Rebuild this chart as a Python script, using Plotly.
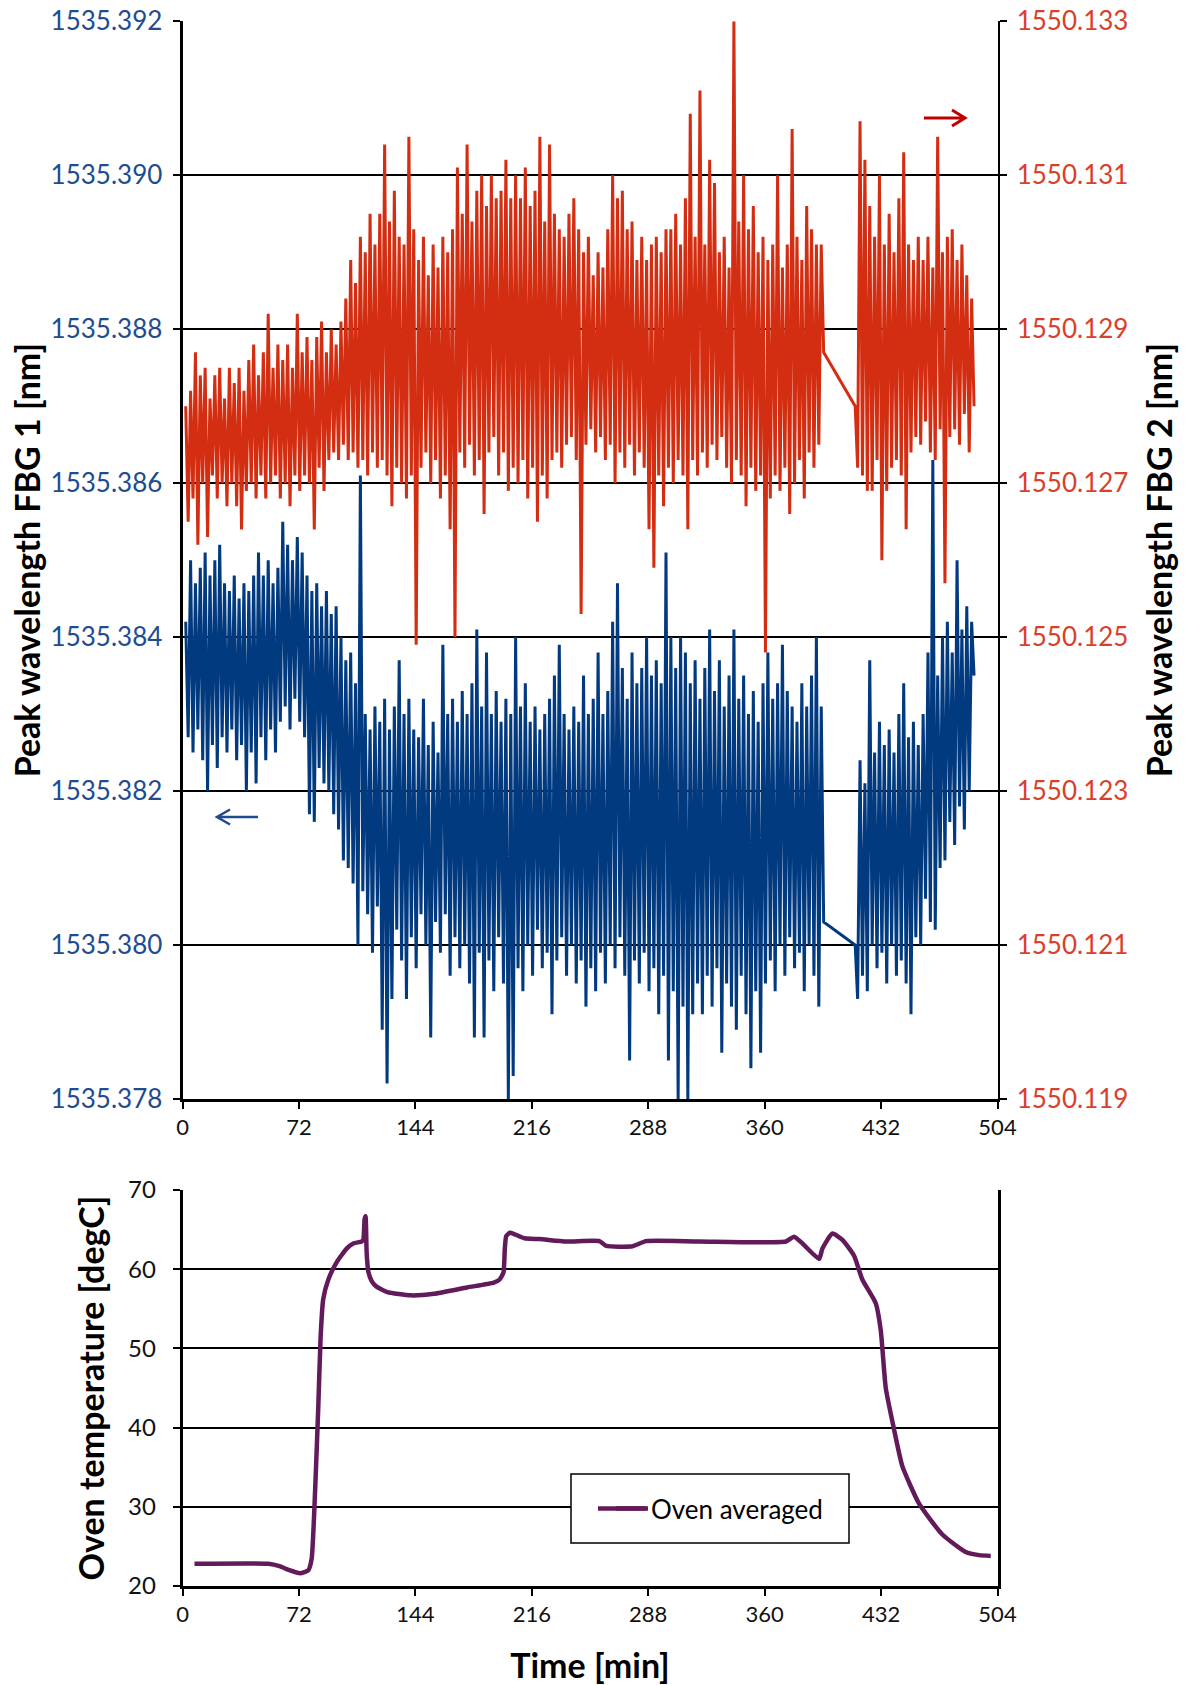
import plotly.graph_objects as go

# ---------------- data ----------------
# start time (min) of each high/low reading pair; the low of a pair is 1.5 min later
pair_times = list(range(2, 396, 3)) + list(range(416, 489, 3))

fbg1_hi = [
    1535.3842, 1535.3850, 1535.3847, 1535.3849, 1535.3851, 1535.3848, 1535.3850, 1535.3852, 1535.3847, 1535.3846,
    1535.3848, 1535.3845, 1535.3847, 1535.3846, 1535.3848, 1535.3851, 1535.3848, 1535.3850, 1535.3847, 1535.3849,
    1535.3855, 1535.3852, 1535.3850, 1535.3853, 1535.3851, 1535.3848, 1535.3846, 1535.3847, 1535.3844, 1535.3846,
    1535.3843, 1535.3844, 1535.3840, 1535.3837, 1535.3838, 1535.3834, 1535.3861, 1535.3830, 1535.3828, 1535.3831,
    1535.3829, 1535.3832, 1535.3828, 1535.3831, 1535.3837, 1535.3830, 1535.3832, 1535.3828, 1535.3827, 1535.3832,
    1535.3826, 1535.3829, 1535.3825, 1535.3839, 1535.3830, 1535.3832, 1535.3829, 1535.3833, 1535.3830, 1535.3834,
    1535.3841, 1535.3831, 1535.3838, 1535.3830, 1535.3833, 1535.3829, 1535.3832, 1535.3830, 1535.3840, 1535.3831,
    1535.3834, 1535.3829, 1535.3831, 1535.3828, 1535.3830, 1535.3832, 1535.3835, 1535.3839, 1535.3830, 1535.3828,
    1535.3831, 1535.3829, 1535.3835, 1535.3830, 1535.3832, 1535.3838, 1535.3830, 1535.3833, 1535.3842, 1535.3847,
    1535.3836, 1535.3832, 1535.3838, 1535.3834, 1535.3836, 1535.3840, 1535.3835, 1535.3837, 1535.3834, 1535.3851,
    1535.3840, 1535.3836, 1535.3840, 1535.3838, 1535.3834, 1535.3837, 1535.3832, 1535.3836, 1535.3841, 1535.3833,
    1535.3837, 1535.3831, 1535.3835, 1535.3841, 1535.3832, 1535.3835, 1535.3830, 1535.3833, 1535.3829, 1535.3834,
    1535.3838, 1535.3832, 1535.3834, 1535.3839, 1535.3833, 1535.3831, 1535.3829, 1535.3834, 1535.3831, 1535.3835,
    1535.3840, 1535.3831,
    1535.3800, 1535.3824, 1535.3821, 1535.3837, 1535.3825, 1535.3829, 1535.3826, 1535.3828, 1535.3825, 1535.3830,
    1535.3834, 1535.3827, 1535.3829, 1535.3826, 1535.3830, 1535.3838, 1535.3863, 1535.3835, 1535.3840, 1535.3842,
    1535.3838, 1535.3850, 1535.3841, 1535.3844, 1535.3842,
]
fbg1_lo = [
    1535.3827, 1535.3825, 1535.3828, 1535.3824, 1535.3820, 1535.3826, 1535.3823, 1535.3827, 1535.3825, 1535.3828,
    1535.3824, 1535.3826, 1535.3820, 1535.3825, 1535.3821, 1535.3827, 1535.3824, 1535.3828, 1535.3825, 1535.3829,
    1535.3831, 1535.3828, 1535.3832, 1535.3829, 1535.3827, 1535.3817, 1535.3816, 1535.3823, 1535.3821, 1535.3820,
    1535.3817, 1535.3815, 1535.3811, 1535.3810, 1535.3808, 1535.3800, 1535.3807, 1535.3804, 1535.3799, 1535.3805,
    1535.3789, 1535.3782, 1535.3793, 1535.3802, 1535.3798, 1535.3793, 1535.3801, 1535.3797, 1535.3804, 1535.3800,
    1535.3788, 1535.3803, 1535.3799, 1535.3804, 1535.3796, 1535.3801, 1535.3797, 1535.3800, 1535.3795, 1535.3788,
    1535.3799, 1535.3788, 1535.3798, 1535.3794, 1535.3801, 1535.3795, 1535.3780, 1535.3783, 1535.3797, 1535.3794,
    1535.3800, 1535.3796, 1535.3802, 1535.3797, 1535.3799, 1535.3791, 1535.3798, 1535.3801, 1535.3796, 1535.3800,
    1535.3795, 1535.3798, 1535.3792, 1535.3797, 1535.3794, 1535.3799, 1535.3795, 1535.3800, 1535.3797, 1535.3801,
    1535.3796, 1535.3785, 1535.3798, 1535.3795, 1535.3799, 1535.3794, 1535.3797, 1535.3791, 1535.3796, 1535.3785,
    1535.3794, 1535.3780, 1535.3792, 1535.3780, 1535.3791, 1535.3795, 1535.3791, 1535.3796, 1535.3792, 1535.3797,
    1535.3786, 1535.3795, 1535.3792, 1535.3789, 1535.3796, 1535.3791, 1535.3784, 1535.3794, 1535.3786, 1535.3795,
    1535.3798, 1535.3794, 1535.3800, 1535.3796, 1535.3801, 1535.3797, 1535.3799, 1535.3794, 1535.3800, 1535.3796,
    1535.3792, 1535.3803,
    1535.3793, 1535.3796, 1535.3794, 1535.3800, 1535.3797, 1535.3799, 1535.3795, 1535.3800, 1535.3796, 1535.3798,
    1535.3795, 1535.3791, 1535.3801, 1535.3800, 1535.3806, 1535.3803, 1535.3802, 1535.3810, 1535.3811, 1535.3816,
    1535.3813, 1535.3818, 1535.3815, 1535.3820, 1535.3835,
]
fbg2_hi = [
    1550.1280, 1550.1282, 1550.1287, 1550.1284, 1550.1285, 1550.1281, 1550.1284, 1550.1285, 1550.1281, 1550.1285,
    1550.1283, 1550.1285, 1550.1282, 1550.1286, 1550.1288, 1550.1284, 1550.1287, 1550.1292, 1550.1285, 1550.1288,
    1550.1286, 1550.1288, 1550.1285, 1550.1292, 1550.1287, 1550.1289, 1550.1286, 1550.1289, 1550.1291, 1550.1287,
    1550.1290, 1550.1288, 1550.1291, 1550.1294, 1550.1299, 1550.1296, 1550.1302, 1550.1300, 1550.1305, 1550.1301,
    1550.1305, 1550.1314, 1550.1304, 1550.1308, 1550.1302, 1550.1301, 1550.1315, 1550.1303, 1550.1299, 1550.1302,
    1550.1297, 1550.1301, 1550.1298, 1550.1302, 1550.1300, 1550.1303, 1550.1311, 1550.1305, 1550.1314, 1550.1304,
    1550.1308, 1550.1310, 1550.1306, 1550.1310, 1550.1307, 1550.1308, 1550.1312, 1550.1307, 1550.1310, 1550.1307,
    1550.1311, 1550.1306, 1550.1308, 1550.1315, 1550.1304, 1550.1314, 1550.1305, 1550.1303, 1550.1302, 1550.1305,
    1550.1307, 1550.1303, 1550.1300, 1550.1302, 1550.1297, 1550.1300, 1550.1298, 1550.1303, 1550.1310, 1550.1307,
    1550.1308, 1550.1303, 1550.1304, 1550.1299, 1550.1302, 1550.1299, 1550.1301, 1550.1302, 1550.1300, 1550.1303,
    1550.1303, 1550.1305, 1550.1301, 1550.1307, 1550.1318, 1550.1302, 1550.1321, 1550.1301, 1550.1312, 1550.1309,
    1550.1300, 1550.1302, 1550.1298, 1550.1330, 1550.1304, 1550.1310, 1550.1303, 1550.1306, 1550.1300, 1550.1302,
    1550.1299, 1550.1301, 1550.1310, 1550.1298, 1550.1301, 1550.1316, 1550.1302, 1550.1299, 1550.1306, 1550.1303,
    1550.1301, 1550.1301,
    1550.1280, 1550.1317, 1550.1312, 1550.1306, 1550.1302, 1550.1310, 1550.1301, 1550.1305, 1550.1300, 1550.1307,
    1550.1313, 1550.1301, 1550.1299, 1550.1302, 1550.1299, 1550.1302, 1550.1298, 1550.1315, 1550.1300, 1550.1302,
    1550.1303, 1550.1299, 1550.1301, 1550.1297, 1550.1294,
]
fbg2_lo = [
    1550.1265, 1550.1268, 1550.1262, 1550.1270, 1550.1263, 1550.1271, 1550.1268, 1550.1270, 1550.1267, 1550.1270,
    1550.1267, 1550.1264, 1550.1269, 1550.1270, 1550.1268, 1550.1271, 1550.1268, 1550.1270, 1550.1271, 1550.1268,
    1550.1270, 1550.1267, 1550.1271, 1550.1269, 1550.1271, 1550.1270, 1550.1264, 1550.1272, 1550.1269, 1550.1273,
    1550.1274, 1550.1273, 1550.1275, 1550.1273, 1550.1274, 1550.1272, 1550.1273, 1550.1271, 1550.1274, 1550.1272,
    1550.1273, 1550.1271, 1550.1267, 1550.1272, 1550.1270, 1550.1268, 1550.1271, 1550.1249, 1550.1272, 1550.1274,
    1550.1270, 1550.1273, 1550.1268, 1550.1271, 1550.1264, 1550.1250, 1550.1274, 1550.1272, 1550.1275, 1550.1271,
    1550.1273, 1550.1266, 1550.1274, 1550.1276, 1550.1271, 1550.1274, 1550.1269, 1550.1272, 1550.1270, 1550.1273,
    1550.1268, 1550.1272, 1550.1265, 1550.1271, 1550.1268, 1550.1273, 1550.1274, 1550.1272, 1550.1275, 1550.1276,
    1550.1273, 1550.1253, 1550.1275, 1550.1277, 1550.1274, 1550.1276, 1550.1273, 1550.1275, 1550.1270, 1550.1274,
    1550.1272, 1550.1275, 1550.1271, 1550.1274, 1550.1272, 1550.1264, 1550.1259, 1550.1271, 1550.1267, 1550.1272,
    1550.1270, 1550.1273, 1550.1271, 1550.1264, 1550.1273, 1550.1271, 1550.1274, 1550.1272, 1550.1275, 1550.1273,
    1550.1276, 1550.1272, 1550.1270, 1550.1273, 1550.1271, 1550.1267, 1550.1272, 1550.1269, 1550.1271, 1550.1248,
    1550.1268, 1550.1271, 1550.1269, 1550.1272, 1550.1266, 1550.1270, 1550.1273, 1550.1268, 1550.1274, 1550.1272,
    1550.1275, 1550.1287,
    1550.1272, 1550.1271, 1550.1269, 1550.1269, 1550.1273, 1550.1260, 1550.1269, 1550.1272, 1550.1273, 1550.1271,
    1550.1264, 1550.1274, 1550.1276, 1550.1275, 1550.1278, 1550.1274, 1550.1273, 1550.1277, 1550.1257, 1550.1276,
    1550.1277, 1550.1275, 1550.1279, 1550.1274, 1550.1280,
]

oven_time = [7.4, 53.1, 60, 66, 72.7, 77.8, 79.9, 82, 84, 85.4, 87, 90.2, 95.4, 101.5, 105.6, 110.8,
             111.8, 112.6, 113.2, 113.9, 115.0, 117.0, 120.0, 126.7, 141.1, 155.5, 176, 192.5, 196.1,
             198.5, 199.3, 200.2, 202.5, 205.5, 211.5, 220.8, 237.3, 257.8, 262, 278.4, 286.6, 319.6,
             373.1, 378.2, 383.4, 393.7, 395.7, 401.9, 408.1, 415.3, 420.4, 428.7, 431.8, 434.9, 440,
             445.2, 455.5, 469.9, 484.3, 492.6, 499.8]
oven_temp = [22.8, 22.8, 22.5, 22.0, 21.6, 22.0, 23.5, 32.0, 42.8, 51.4, 56.2, 58.7, 60.9, 62.6, 63.25, 63.5,
             63.7, 66.3, 66.7, 62.0, 59.6, 58.5, 57.8, 57.1, 56.7, 56.9, 57.7, 58.3, 58.7,
             59.6, 62.5, 64.2, 64.6, 64.4, 63.9, 63.8, 63.5, 63.55, 62.95, 62.9, 63.55, 63.5,
             63.5, 64.1, 63.25, 61.3, 62.6, 64.5, 63.7, 61.7, 58.7, 55.7, 52.3, 45.0, 39.8,
             35.1, 30.4, 26.5, 24.3, 23.9, 23.8]

time_ticks = [0, 72, 144, 216, 288, 360, 432, 504]
fbg1_ticks = [1535.378, 1535.380, 1535.382, 1535.384, 1535.386, 1535.388, 1535.390, 1535.392]
fbg2_ticks = [1550.119, 1550.121, 1550.123, 1550.125, 1550.127, 1550.129, 1550.131, 1550.133]
temp_ticks = [20, 30, 40, 50, 60, 70]

# ---------------- styling ----------------
W, H = 1188, 1685
FONT = "Lato"
RED, BLUE, PURPLE = "#D42E12", "#023A80", "#631A5B"
RED_LBL, BLUE_LBL = "#D9402A", "#1F4C8F"


def px(x):
    return x / W


def py(y):
    return 1 - y / H


def zigzag(times, hi, lo):
    xs, ys = [], []
    for t, h, l in zip(times, hi, lo):
        xs += [t, t + 1.5]
        ys += [h, l]
    return xs, ys


x1, y1 = zigzag(pair_times, fbg1_hi, fbg1_lo)
x2, y2 = zigzag(pair_times, fbg2_hi, fbg2_lo)

fig = go.Figure()
fig.add_trace(go.Scatter(x=x1, y=y1, mode="lines", name="FBG 1",
                         line=dict(color=BLUE, width=3.0), xaxis="x", yaxis="y", showlegend=False))
fig.add_trace(go.Scatter(x=x2, y=y2, mode="lines", name="FBG 2",
                         line=dict(color=RED, width=3.0), xaxis="x", yaxis="y2", showlegend=False))
fig.add_trace(go.Scatter(x=oven_time, y=oven_temp, mode="lines", name="Oven averaged",
                         line=dict(color=PURPLE, width=4.5, shape="spline", smoothing=0.5),
                         xaxis="x2", yaxis="y3", showlegend=True))

xdom = [px(182.5), px(997.5)]
top_dom = [py(1099), py(21.3)]
bot_dom = [py(1586), py(1190)]
eps = 1e-7

title_font = dict(family=FONT, size=34, color="black", weight="bold")

fig.update_layout(
    width=W, height=H,
    margin=dict(l=0, r=0, t=0, b=0, autoexpand=False),
    paper_bgcolor="white", plot_bgcolor="white",
    font=dict(family=FONT, color="black"),
    xaxis=dict(domain=xdom, anchor="y", range=[0, 504], tickvals=time_ticks, automargin=False,
               ticks="outside", ticklen=7, tickwidth=2, tickcolor="black",
               showline=True, linewidth=3, linecolor="black", showgrid=False, zeroline=False,
               tickfont=dict(size=22, color="#111"), ticklabelstandoff=0),
    yaxis=dict(domain=top_dom, anchor="x", range=[fbg1_ticks[0] - eps, fbg1_ticks[-1] + eps],
               tickvals=fbg1_ticks, ticktext=[f"{v:.3f}" for v in fbg1_ticks], automargin=False,
               ticks="outside", ticklen=7, tickwidth=2, tickcolor="black",
               showline=True, linewidth=3, linecolor="black",
               showgrid=True, gridcolor="black", gridwidth=1.5, zeroline=False,
               tickfont=dict(size=26, color=BLUE_LBL), ticklabelstandoff=5,
               title=dict(text="Peak wavelength FBG 1 [nm]", font=title_font, standoff=0)),
    yaxis2=dict(overlaying="y", side="right", anchor="x", automargin=False,
                range=[fbg2_ticks[0] - eps, fbg2_ticks[-1] + eps],
                tickvals=fbg2_ticks, ticktext=[f"{v:.3f}" for v in fbg2_ticks],
                ticks="outside", ticklen=7, tickwidth=2, tickcolor="black",
                showline=True, linewidth=2, linecolor="black",
                showgrid=False, zeroline=False,
                tickfont=dict(size=26, color=RED_LBL), ticklabelstandoff=5,
                title=dict(text="Peak wavelength FBG 2 [nm]", font=title_font, standoff=21)),
    xaxis2=dict(domain=xdom, anchor="y3", range=[0, 504], tickvals=time_ticks, automargin=False,
                ticks="outside", ticklen=7, tickwidth=2, tickcolor="black",
                showline=True, linewidth=2.5, linecolor="black", showgrid=False, zeroline=False,
                tickfont=dict(size=22, color="#111"), ticklabelstandoff=0,
                title=dict(text="Time [min]", font=title_font, standoff=29)),
    yaxis3=dict(domain=bot_dom, anchor="x2", range=[temp_ticks[0] - 0.001, temp_ticks[-1] + 0.001],
                tickvals=temp_ticks, ticks="outside", ticklen=7, tickwidth=2, tickcolor="black",
                showline=True, linewidth=2.5, linecolor="black", mirror=True, automargin=False,
                showgrid=True, gridcolor="black", gridwidth=1.5, zeroline=False,
                tickfont=dict(size=24, color="#111"), ticklabelstandoff=12,
                title=dict(text="Oven temperature [degC]", font=title_font, standoff=14)),
    legend=dict(x=px(611), y=py(1508.5), xanchor="left", yanchor="middle",
                bgcolor="rgba(0,0,0,0)", borderwidth=0,
                font=dict(family=FONT, size=26, color="black")),
    shapes=[
        # legend frame
        dict(type="rect", xref="paper", yref="paper", x0=px(571), x1=px(849), y0=py(1543), y1=py(1474),
             fillcolor="white", line=dict(color="black", width=1.5), layer="above"),
        # legend line sample, drawn at the reference length
        dict(type="line", xref="paper", yref="paper", x0=px(598), x1=px(648), y0=py(1508.5), y1=py(1508.5),
             line=dict(color=PURPLE, width=4.5), layer="above"),
        # arrow pointing to right axis (FBG 2)
        dict(type="path", xref="paper", yref="paper",
             path=f"M{px(924)},{py(118)} L{px(965)},{py(118)} M{px(952)},{py(110)} L{px(965)},{py(118)} L{px(952)},{py(126)}",
             line=dict(color="#C00000", width=3), layer="above"),
        # arrow pointing to left axis (FBG 1)
        dict(type="path", xref="paper", yref="paper",
             path=f"M{px(258)},{py(817)} L{px(217)},{py(817)} M{px(230)},{py(809.5)} L{px(217)},{py(817)} L{px(230)},{py(824.5)}",
             line=dict(color=BLUE_LBL, width=2.5), layer="above"),
    ],
)

fig.write_html("out.html", config={"displayModeBar": False},
               post_script="document.body.style.margin='0px';document.body.style.overflow='hidden';")
